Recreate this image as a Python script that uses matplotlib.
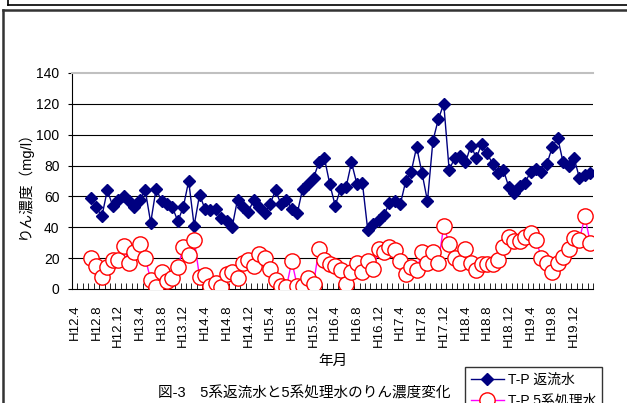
import numpy as np
import matplotlib
matplotlib.use("Agg")
import matplotlib.pyplot as plt
from matplotlib.lines import Line2D

plt.rcParams['font.family'] = ['Liberation Sans', 'Noto Sans CJK JP', 'DejaVu Sans']

# monthly categories H12.4 .. H20.3 (96 months); measurements start at H12.7
n_months = 96
tick_labels = ['H12.4', 'H12.8', 'H12.12', 'H13.4', 'H13.8', 'H13.12',
               'H14.4', 'H14.8', 'H14.12', 'H15.4', 'H15.8', 'H15.12',
               'H16.4', 'H16.8', 'H16.12', 'H17.4', 'H17.8', 'H17.12',
               'H18.4', 'H18.8', 'H18.12', 'H19.4', 'H19.8', 'H19.12']

nan = np.nan
# T-P 返流水 (mg/l)
tp_return = [nan, nan, nan,
             59, 53, 47, 64, 54, 58, 60, 57, 53, 58,
             64, 43, 65, 57, 55, 53, 44, 53, 70, 41,
             61, 52, 51, 52, 46, 44, 40, 58, 53, 50,
             58, 53, 49, 55, 64, 55, 58, 52, 49, 65,
             68, 72, 82, 85, 68, 54, 65, 66, 82, 68,
             69, 38, 42, 45, 48, 56, 57, 55, 70, 76,
             92, 75, 57, 96, 110, 120, 77, 85, 86, 82,
             93, 85, 94, 88, 81, 75, 77, 66, 62, 67,
             69, 76, 78, 76, 81, 92, 98, 82, 80, 85,
             72, 74, 75]

# T-P 5系処理水 (mg/l)
tp_treated = [nan, nan, nan,
              20, 15, 8, 14, 19, 19, 28, 17, 24, 29,
              20, 6, 1, 11, 5, 7, 14, 27, 22, 32,
              8, 9, 2, 4, 1, 10, 11, 7, 17, 19,
              15, 23, 20, 13, 6, 2, 1, 18, 2, 2,
              7, 3, 26, 19, 16, 15, 12, 3, 11, 17,
              11, 18, 13, 26, 24, 27, 25, 18, 10, 14,
              12, 24, 17, 24, 17, 41, 29, 20, 17, 26,
              17, 12, 16, 16, 16, 19, 27, 34, 31, 31,
              34, 36, 32, 20, 17, 11, 17, 21, 26, 33,
              32, 47, 30]

x = np.arange(n_months)

fig = plt.figure(figsize=(6.27, 4.03), dpi=100)
ax = fig.add_axes([72 / 627, 1 - 289 / 403, 521 / 627, 216 / 403])

l1, = ax.plot(x, tp_return, color='#000080', lw=1, marker='D', ms=6.5,
              mfc='#000080', mec='#000080', label='T-P 返流水', zorder=3)
l2, = ax.plot(x, tp_treated, color='#ff00ff', lw=1, marker='o', ms=11,
              mfc='white', mec='#ff0000', mew=1, label='T-P 5系処理水', zorder=4)

ax.set_xlim(-0.5, n_months - 0.5)
ax.set_ylim(0, 140)
ax.set_yticks(np.arange(0, 141, 20))
ax.tick_params(axis='y', labelsize=10, length=3, direction='out', pad=6)
for v in range(20, 140, 20):
    ax.axhline(v, color='black', lw=0.8, zorder=1)

ax.set_xticks(np.arange(0, n_months, 4))
ax.set_xticklabels(tick_labels, rotation=90, fontsize=9.5)
ax.set_xticks(np.arange(-0.5, n_months, 1), minor=True)
ax.tick_params(axis='x', which='major', length=0, pad=11)
ax.tick_params(axis='x', which='minor', length=4, direction='in', color='black')

ax.spines['right'].set_visible(False)
ax.spines['top'].set_color('#c0c0c0')
ax.spines['top'].set_linewidth(1.5)
ax.spines['left'].set_color('black')
ax.spines['bottom'].set_color('black')

ax.set_ylabel('りん濃度（mg/l）', fontsize=10.5, labelpad=3)
ax.set_xlabel('年月', fontsize=10.5, labelpad=5)

fig.text(304 / 627, 1 - 393 / 403, '図-3　5系返流水と5系処理水のりん濃度変化',
         ha='center', va='center', fontsize=10.5)

leg = fig.legend(handles=[l1, l2], loc='upper left',
                 bbox_to_anchor=(465 / 627, 1 - 367 / 403),
                 fontsize=10, frameon=True, fancybox=False, borderpad=0.4,
                 handlelength=2.4, handletextpad=0.3, labelspacing=0.5,
                 borderaxespad=0)
leg.get_frame().set_edgecolor('black')
leg.get_frame().set_linewidth(1)

# surrounding frame lines
fig.add_artist(Line2D([8 / 627, 1], [1 - 5 / 403, 1 - 5 / 403], color='black', lw=1.2))
fig.add_artist(Line2D([8 / 627, 8 / 627], [1, 1 - 5 / 403], color='black', lw=1.2))
fig.add_artist(Line2D([3 / 627, 1], [1 - 10 / 403, 1 - 10 / 403], color='#333333', lw=1.8))
fig.add_artist(Line2D([3 / 627, 3 / 627], [0, 1 - 10 / 403], color='#333333', lw=1.8))

fig.savefig('out.png', dpi=100)
